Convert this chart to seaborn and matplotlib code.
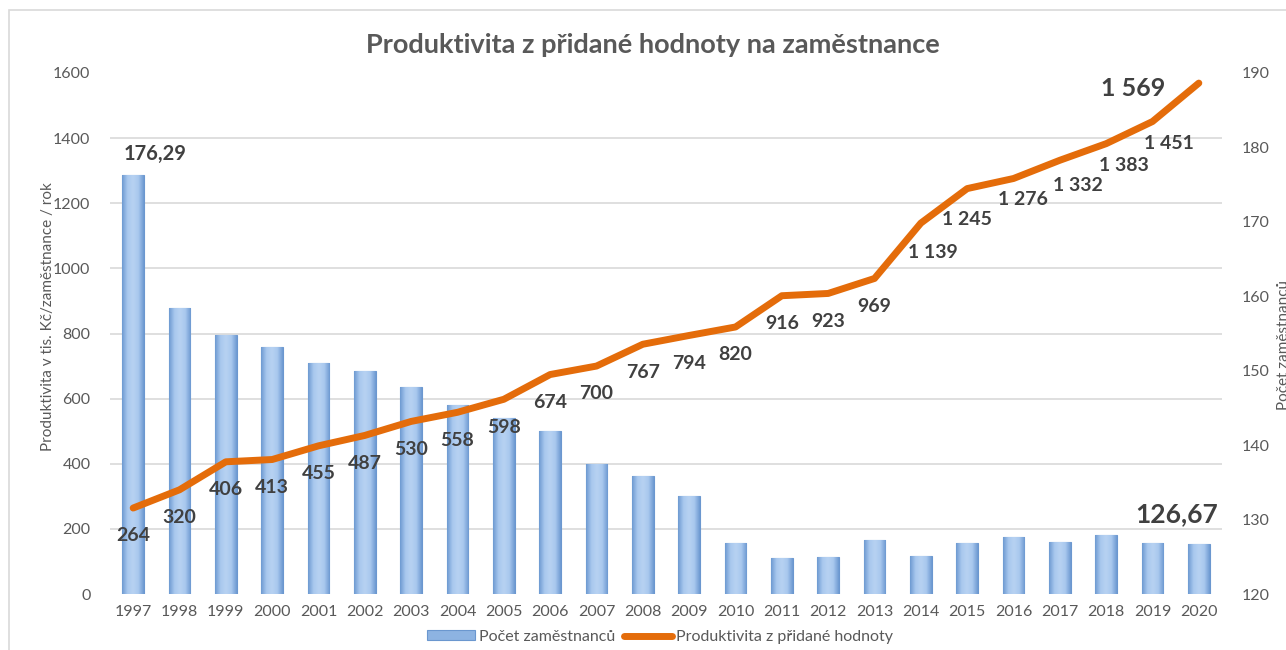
import numpy as np
import pandas as pd
import matplotlib
matplotlib.use("Agg")
import matplotlib.pyplot as plt
from matplotlib.patches import Rectangle
from matplotlib.lines import Line2D
from matplotlib.colors import LinearSegmentedColormap
import seaborn as sns

# ==============================
# Data
# ==============================
roky = [str(r) for r in range(1997, 2021)]

# Počet zaměstnanců (pravá osa)
zamestnanci = [176.29, 158.4, 154.8, 153.2, 151.0, 150.0, 147.8, 145.4, 143.6, 141.9,
               137.5, 135.9, 133.2, 126.9, 124.9, 125.0, 127.2, 125.1, 126.8, 127.7,
               127.0, 127.9, 126.8, 126.67]

# Produktivita v tis. Kč / zaměstnance / rok (levá osa)
produktivita = [264, 320, 406, 413, 455, 487, 530, 558, 598, 674, 700, 767, 794, 820,
                916, 923, 969, 1139, 1245, 1276, 1332, 1383, 1451, 1569]

df = pd.DataFrame({"rok": roky, "zamestnanci": zamestnanci, "produktivita": produktivita})
df["pos"] = np.arange(len(df))

# ==============================
# Style
# ==============================
sns.set_style("white")
plt.rcParams["font.family"] = ["Lato", "DejaVu Sans"]

SEDA = "#595959"
TMAVA = "#404040"
ORANZ = "#E46C0A"
MODRA = "#8DB3E2"

fig = plt.figure(figsize=(12.86, 6.5), dpi=100)

# ramecek grafu
fig.patches.append(Rectangle((9 / 1286, -0.1), 1.2, 640 / 650 + 0.1, transform=fig.transFigure,
                             fill=False, edgecolor="#D9D9D9", linewidth=1.2, zorder=0))

ax_bar = fig.add_axes([110 / 1286, 56 / 650, 1112 / 1286, 521 / 650])
ax_line = ax_bar.twinx()

# ==============================
# Sloupce - pocet zamestnancu
# ==============================
sns.barplot(data=df, x="rok", y="zamestnanci", ax=ax_bar, color=MODRA, width=0.47,
            saturation=1, errorbar=None, edgecolor="#6B97CF", linewidth=0.8)

# gradient ve sloupcich
cmap = LinearSegmentedColormap.from_list("bar", ["#6E9AD2", "#A9C8EE", "#B7D2F2", "#A9C8EE", "#6E9AD2"])
grad = np.linspace(0, 1, 64).reshape(1, -1)
for p in list(ax_bar.patches):
    x0 = p.get_x()
    im = ax_bar.imshow(grad, extent=[x0, x0 + p.get_width(), 120, p.get_height()],
                       aspect="auto", cmap=cmap, zorder=p.get_zorder() + 0.1)
    im.set_clip_path(p)
ax_bar.set_ylim(120, 190)
ax_bar.set_xlim(-0.5, len(df) - 0.5)

ax_bar.yaxis.tick_right()
ax_bar.yaxis.set_label_position("right")
ax_bar.set_yticks(np.arange(120, 191, 10))
ax_bar.set_yticks(np.linspace(120, 190, 9), minor=True)
ax_bar.grid(axis="y", which="minor", color="#D9D9D9", linewidth=1.2)
ax_bar.grid(axis="y", which="major", visible=False)
ax_bar.set_axisbelow(True)
ax_bar.tick_params(axis="y", which="both", length=0, labelsize=11.5, labelcolor=SEDA, pad=14)
ax_bar.tick_params(axis="x", length=0, labelsize=11.5, labelcolor=SEDA, pad=8)
ax_bar.set_xlabel("")
ax_bar.set_ylabel("")

# ==============================
# Cara - produktivita
# ==============================
sns.lineplot(data=df, x="pos", y="produktivita", ax=ax_line, color=ORANZ, linewidth=5,
             solid_capstyle="round", solid_joinstyle="round")
ax_line.set_ylim(0, 1600)
ax_line.set_xlim(-0.5, len(df) - 0.5)
ax_line.yaxis.tick_left()
ax_line.yaxis.set_label_position("left")
ax_line.set_yticks(np.arange(0, 1601, 200))
ax_line.tick_params(axis="y", length=0, labelsize=11.5, labelcolor=SEDA, pad=14)
ax_line.set_xlabel("")
ax_line.set_ylabel("")
ax_line.grid(False)

for a in (ax_bar, ax_line):
    for s in a.spines.values():
        s.set_visible(False)


def cz(v):
    return f"{v:,}".replace(",", " ")


# popisky produktivity
posun_x = {17: 9, 19: 7, 20: 13, 21: 13, 22: 12}
posun_y = {19: -15, 20: -18, 21: -16, 22: -16, 17: -21, 18: -22}
for i, v in enumerate(produktivita[:-1]):
    ax_line.annotate(cz(v), (i, v), xytext=(posun_x.get(i, 0), posun_y.get(i, -20)),
                     textcoords="offset points", ha="center", va="center",
                     fontsize=14, fontweight="bold", color=TMAVA)
ax_line.annotate(cz(produktivita[-1]), (len(df) - 1, produktivita[-1]), xytext=(-47, -4),
                 textcoords="offset points", ha="center", va="center",
                 fontsize=18, fontweight="bold", color=TMAVA)

# popisky zamestnancu (prvni a posledni)
ax_bar.annotate(f"{zamestnanci[0]:.2f}".replace(".", ","), (0, zamestnanci[0]), xytext=(16, 15),
                textcoords="offset points", ha="center", va="center",
                fontsize=14.5, fontweight="bold", color=TMAVA, zorder=5)
ax_bar.annotate(f"{zamestnanci[-1]:.2f}".replace(".", ","), (len(df) - 1, zamestnanci[-1]),
                xytext=(-16, 22), textcoords="offset points", ha="center", va="center",
                fontsize=19, fontweight="bold", color=TMAVA, zorder=5)

# ==============================
# Titulky
# ==============================
fig.text(653 / 1286, (650 - 45) / 650, "Produktivita z přidané hodnoty na zaměstnance",
         ha="center", va="center", fontsize=19.5, fontweight="bold", color=SEDA)
fig.text(48 / 1286, 333 / 650, "Produktivita v tis. Kč/zaměstnance / rok", rotation=90,
         ha="center", va="center", fontsize=11, color=SEDA)
fig.text(1277 / 1286, 0.47, "Počet zaměstnanců", rotation=90,
         ha="left", va="center", fontsize=11, color=SEDA)

# legenda
h_bar = Rectangle((0, 0), 1, 1, facecolor=MODRA, edgecolor="#6B97CF", linewidth=0.8)
h_line = Line2D([0], [0], color=ORANZ, linewidth=5, solid_capstyle="round")
fig.legend([h_bar, h_line], ["Počet zaměstnanců", "Produktivita z přidané hodnoty"],
           loc="center", bbox_to_anchor=(660 / 1286, 13 / 650), ncol=2, frameon=False,
           fontsize=11.5, labelcolor=SEDA, handlelength=3.0, handleheight=0.6,
           handletextpad=0.2, columnspacing=0.6)

fig.savefig("out.png", dpi=100)
